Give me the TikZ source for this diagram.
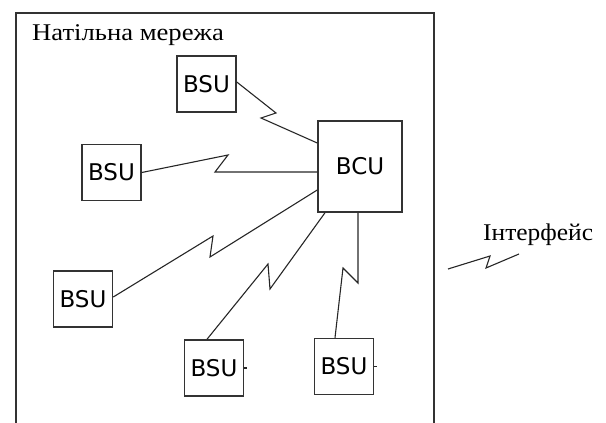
\documentclass[tikz,border=0pt]{standalone}
\usepackage{fontspec}
\setmainfont{Liberation Serif}
\newfontfamily\unitfont{DejaVu Sans}
\newcommand{\widetext}[2][1.11]{\scalebox{#1}[1]{#2}}
\begin{document}
\begin{tikzpicture}[x=1pt,y=-1pt,
  unit/.style={draw=black!80,line width=1.5pt,fill=white,inner sep=0pt,
    minimum width=59pt,minimum height=56pt,font=\unitfont\fontsize{23}{26}\selectfont},
  link/.style={draw=black!85,line width=1.1pt,line join=miter},
  frameline/.style={draw=black!80,line width=2pt},
  caption/.style={inner sep=0pt,anchor=base west,font=\fontsize{24}{28}\selectfont}]
\useasboundingbox (0,0) rectangle (606,423);

% network boundary (open at the bottom)
\draw[frameline] (16,423) -- (16,13) -- (434,13) -- (434,423);
\node[caption] (net) at (32,40) {\widetext{Натільна мережа}};

% central unit
\node[unit,minimum width=84pt,minimum height=91pt] (bcu) at (360,166.5) {BCU};

% sensor units
\node[unit] (b1) at (206.5,84) {BSU};
\node[unit] (b2) at (111.5,172.5) {BSU};
\node[unit] (b3) at (83,299) {BSU};
\node[unit] (b4) at (214,368) {BSU};
\node[unit] (b5) at (344,366.5) {BSU};

% radio links to the central unit
\draw[link] ([yshift=2pt]b1.east) -- (276,113) -- (261,118) -- ([yshift=23.5pt]bcu.west);
\draw[link] (b2.east) -- (228,155) -- (215,172) -- ([yshift=-5.5pt]bcu.west);
\draw[link] ([yshift=2pt]b3.east) -- (213,236) -- (210,257) -- ([yshift=-23.5pt]bcu.west);
\draw[link] ([xshift=-7pt]b4.north) -- (268,264) -- (270,289) -- ([xshift=-35pt]bcu.south);
\draw[link] ([xshift=-9pt]b5.north) -- (343,268) -- (358,283) -- ([xshift=-2pt]bcu.south);

% short stubs on the right of the lower units
\draw[link] (b4.east) -- ++(3,0);
\draw[link] (b5.east) -- ++(3,0);

% external interface
\coordinate (ifa) at (448,269);
\coordinate (ifb) at (519,254);
\draw[link] (ifa) -- (490,256) -- (486,268) -- (ifb);
\node[caption] (iface) at (483,240) {\widetext[1.06]{Інтерфейс}};
\end{tikzpicture}
\end{document}
